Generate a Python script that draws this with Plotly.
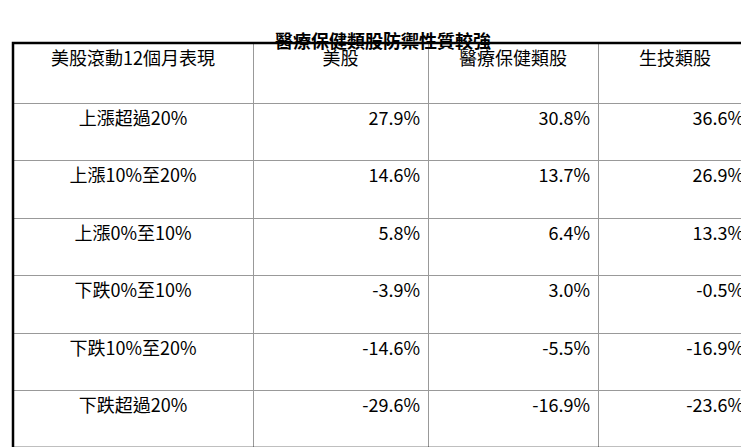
import plotly.graph_objects as go

headers = ["美股滾動12個月表現", "美股", "醫療保健類股", "生技類股"]
categories = ["上漲超過20%", "上漲10%至20%", "上漲0%至10%", "下跌0%至10%", "下跌10%至20%", "下跌超過20%"]
us = ["27.9%", "14.6%", "5.8%", "-3.9%", "-14.6%", "-29.6%"]
health = ["30.8%", "13.7%", "6.4%", "3.0%", "-5.5%", "-16.9%"]
biotech = ["36.6%", "26.9%", "13.3%", "-0.5%", "-16.9%", "-23.6%"]

W, H = 749, 447
x0, x1, ytop, ybot = 5, 744, 35, 440
font = "Noto Sans CJK TC"

fig = go.Figure(go.Table(
    domain=dict(x=[x0 / W, x1 / W], y=[0, 1 - ytop / H]),
    columnwidth=[240, 175, 170, 154],
    header=dict(values=headers, height=60, align="center",
                fill_color="white", line=dict(color="#999999", width=1),
                font=dict(family=font, size=18, color="black")),
    cells=dict(values=[categories, us, health, biotech], height=57.5,
               align=["center", "right", "right", "right"],
               fill_color="white", line=dict(color="#999999", width=1),
               font=dict(family=font, size=18, color="black")),
))
fig.add_shape(type="rect", xref="paper", yref="paper",
              x0=x0 / W, x1=x1 / W, y0=1 - ybot / H, y1=1 - ytop / H,
              line=dict(color="black", width=2.5))
fig.add_annotation(text="<b>醫療保健類股防禦性質較強</b>", xref="paper", yref="paper",
                   x=0.5, y=1 - 17 / H, showarrow=False,
                   font=dict(family=font, size=18, color="black"))
fig.update_layout(width=W, height=H, margin=dict(l=0, r=0, t=0, b=0),
                  paper_bgcolor="white", plot_bgcolor="white")
fig.write_html("out.html")
